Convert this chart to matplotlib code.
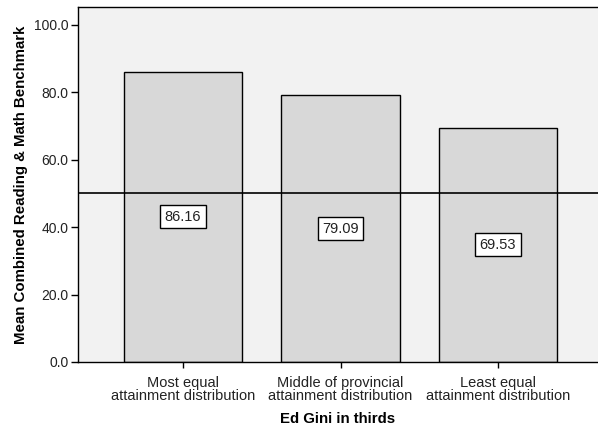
import matplotlib
matplotlib.use("Agg")
import matplotlib.pyplot as plt
from matplotlib.ticker import FormatStrFormatter

plt.rcParams['font.family'] = ['Liberation Sans', 'DejaVu Sans']

categories = ["Most equal\nattainment distribution",
              "Middle of provincial\nattainment distribution",
              "Least equal\nattainment distribution"]
values = [86.16, 79.09, 69.53]
y_ticks = [0, 20, 40, 60, 80, 100]
reference_level = 50

fig = plt.figure(figsize=(5.98, 4.29), dpi=100)
ax = fig.add_axes([0.1304, 0.1562, 0.8696, 0.8275])
ax.set_facecolor('#f2f2f2')

x = list(range(len(categories)))
ax.bar(x, values, width=0.75, color='#d8d8d8', edgecolor='black', linewidth=1.0, zorder=2)
ax.axhline(reference_level, color='black', linewidth=1.2, zorder=3)

for xi, v in zip(x, values):
    ax.text(xi, v / 2, f"{v:.2f}", ha='center', va='center', fontsize=10.5, color='#222222',
            zorder=4,
            bbox=dict(boxstyle='square,pad=0.3', facecolor='white', edgecolor='black', linewidth=1.0))

ax.set_xlim(-0.667, 2.635)
ax.set_ylim(0, 105.3)
ax.set_yticks(y_ticks)
ax.yaxis.set_major_formatter(FormatStrFormatter('%.1f'))
ax.set_xticks(x)
ax.set_xticklabels(categories, fontsize=10.5, linespacing=0.95, color='#222222')
ax.tick_params(axis='y', labelsize=10, length=5, width=1, pad=2, labelcolor='#222222')
ax.tick_params(axis='x', length=4, width=1, pad=6)

for side in ['left', 'bottom', 'top']:
    ax.spines[side].set_linewidth(1.0)
    ax.spines[side].set_color('black')
ax.spines['right'].set_visible(False)

ax.set_xlabel("Ed Gini in thirds", fontsize=10.8, fontweight='bold', labelpad=6)
ax.set_ylabel("Mean Combined Reading & Math Benchmark", fontsize=10.8, fontweight='bold', labelpad=4)

fig.savefig("out.png", dpi=100, facecolor='white')
